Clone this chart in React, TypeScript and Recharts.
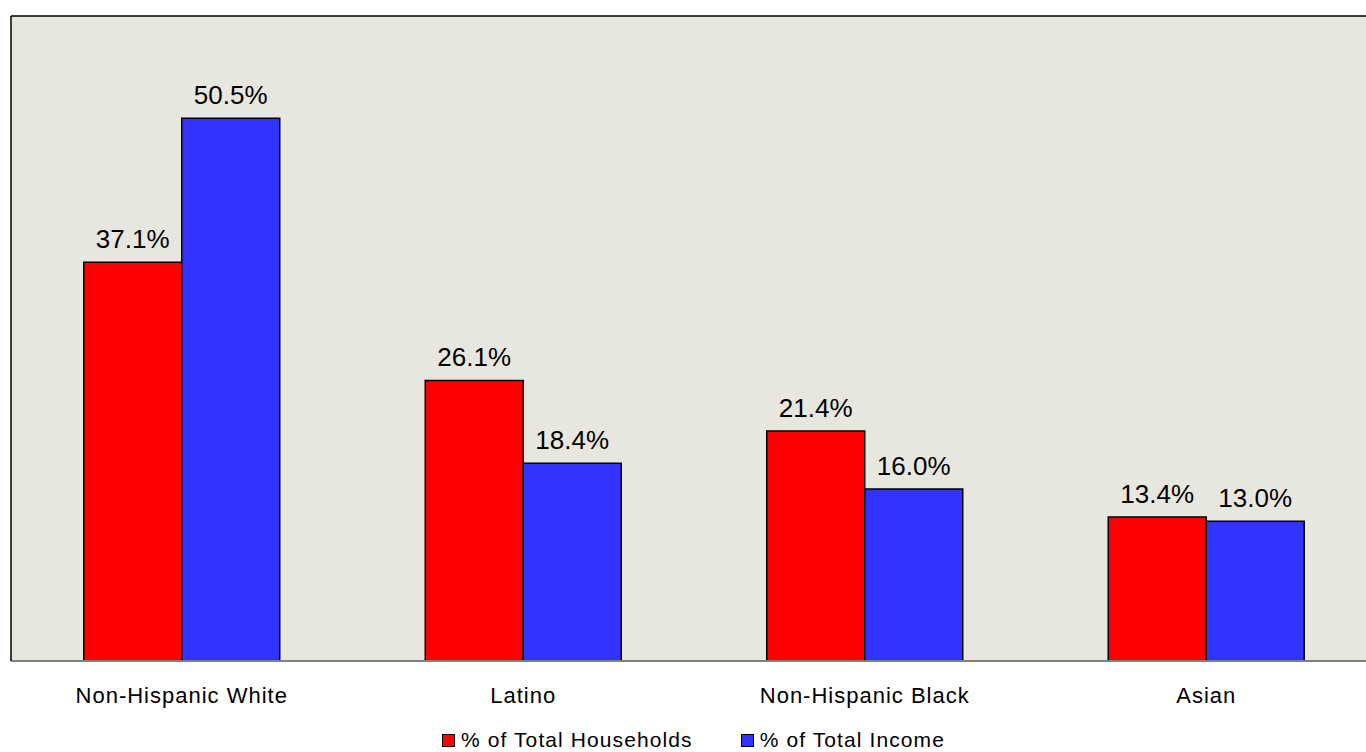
import { BarChart, Bar, XAxis, YAxis, CartesianGrid, Legend, LabelList, ReferenceLine } from 'recharts';

const categories = ['Non-Hispanic White', 'Latino', 'Non-Hispanic Black', 'Asian'];
const households = [37.1, 26.1, 21.4, 13.4];
const income = [50.5, 18.4, 16.0, 13.0];
const seriesNames = ['% of Total Households', '% of Total Income'];
const seriesColors = ['#FF0000', '#3333FF'];

const data = categories.map((name, i) => ({ name, households: households[i], income: income[i] }));

const FONT = "Arial, 'Liberation Sans', sans-serif";

function CategoryTick(props: any) {
  const { x, y, payload } = props;
  return (
    <text x={x} y={y} dy="0.71em" textAnchor="middle" fill="#000" fontSize={22} fontFamily={FONT} letterSpacing={1}>
      {payload.value}
    </text>
  );
}

function LegendContent() {
  return (
    <div style={{ display: 'flex', justifyContent: 'center', alignItems: 'center', height: 24, paddingTop: 3, fontFamily: FONT, fontSize: 21, letterSpacing: 1.1, color: '#000' }}>
      {seriesNames.map((n, i) => (
        <div key={n} style={{ display: 'flex', alignItems: 'center', marginRight: i === 0 ? 48 : 0 }}>
          <span style={{ display: 'inline-block', width: 11, height: 11, background: seriesColors[i], border: '1px solid #000', marginRight: 6 }} />
          <span>{n}</span>
        </div>
      ))}
    </div>
  );
}

export default function App() {
  return (
    <div style={{ position: 'absolute', left: 0, top: 0, width: 1366, height: 752, overflow: 'hidden', background: '#fff' }}>
      <BarChart
        width={1380}
        height={752}
        data={data}
        margin={{ top: 16, right: 3, left: 10, bottom: 0 }}
        barCategoryGap="21.3%"
        barGap={0}
      >
        <CartesianGrid horizontal={false} vertical={false} fill="#E8E7DF" />
        <XAxis
          dataKey="name"
          axisLine={{ stroke: '#808080', strokeWidth: 2 }}
          tickLine={false}
          tickSize={0}
          tickMargin={26}
          height={64}
          tick={<CategoryTick />}
          interval={0}
        />
        <YAxis domain={[0, 60]} width={1} tick={false} tickLine={false} axisLine={{ stroke: '#000', strokeWidth: 1.5 }} />
        <ReferenceLine y={60} stroke="#000" strokeWidth={1.5} />
        <Legend verticalAlign="bottom" content={<LegendContent />} />
        <Bar dataKey="households" name={seriesNames[0]} fill={seriesColors[0]} stroke="#000" strokeWidth={1.5} isAnimationActive={false}>
          <LabelList dataKey="households" position="top" offset={14} formatter={(v: any) => Number(v).toFixed(1) + '%'} fill="#000" fontSize={26} fontFamily={FONT} />
        </Bar>
        <Bar dataKey="income" name={seriesNames[1]} fill={seriesColors[1]} stroke="#000" strokeWidth={1.5} isAnimationActive={false}>
          <LabelList dataKey="income" position="top" offset={14} formatter={(v: any) => Number(v).toFixed(1) + '%'} fill="#000" fontSize={26} fontFamily={FONT} />
        </Bar>
      </BarChart>
    </div>
  );
}
